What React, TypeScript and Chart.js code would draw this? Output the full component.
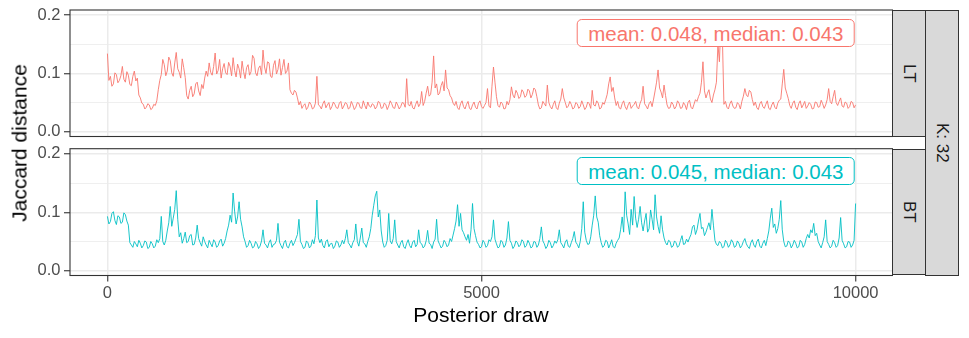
import React, { useEffect, useRef } from "react";
import { Chart, registerables } from "chart.js";

Chart.register(...registerables);

// Posterior draws 0..10000, one value every DRAW_STEP draws
const DRAW_STEP = 20;
const X_TICKS = [0, 5000, 10000];
const Y_TICKS = [0, 0.05, 0.1, 0.15, 0.2];
const PANELS = ["LT", "BT"];
const OUTER_STRIP = "K: 32";
const LABEL_LT = "mean: 0.048, median: 0.043";
const LABEL_BT = "mean: 0.045, median: 0.043";
const COLOR_LT = "#F8766D";
const COLOR_BT = "#00BFC4";

const LT_VALUES = [
  0.134, 0.088, 0.095, 0.078, 0.082, 0.101, 0.098, 0.084, 0.088, 0.096, 0.112, 0.090, 0.085, 0.103, 0.097, 0.081, 0.079, 0.095, 0.104, 0.087,
  0.092, 0.063, 0.058, 0.049, 0.047, 0.039, 0.042, 0.048, 0.046, 0.038, 0.040, 0.047, 0.045, 0.053, 0.072, 0.088, 0.098, 0.124, 0.115, 0.096,
  0.104, 0.128, 0.122, 0.101, 0.095, 0.118, 0.136, 0.108, 0.102, 0.092, 0.125, 0.110, 0.093, 0.062, 0.056, 0.071, 0.078, 0.060, 0.065, 0.082,
  0.085, 0.070, 0.062, 0.081, 0.074, 0.092, 0.104, 0.095, 0.118, 0.102, 0.097, 0.112, 0.135, 0.099, 0.105, 0.124, 0.092, 0.108, 0.117, 0.101,
  0.098, 0.119, 0.112, 0.096, 0.127, 0.105, 0.094, 0.116, 0.108, 0.092, 0.121, 0.103, 0.091, 0.110, 0.115, 0.097, 0.103, 0.131, 0.126, 0.101,
  0.096, 0.109, 0.113, 0.098, 0.140, 0.111, 0.100, 0.120, 0.118, 0.095, 0.093, 0.114, 0.122, 0.099, 0.107, 0.125, 0.097, 0.110, 0.124, 0.100,
  0.104, 0.118, 0.072, 0.066, 0.063, 0.071, 0.068, 0.058, 0.046, 0.052, 0.040, 0.045, 0.048, 0.038, 0.042, 0.051, 0.047, 0.039, 0.041, 0.049,
  0.095, 0.046, 0.044, 0.039, 0.048, 0.053, 0.041, 0.046, 0.050, 0.038, 0.043, 0.051, 0.047, 0.041, 0.040, 0.049, 0.052, 0.039, 0.044, 0.050,
  0.048, 0.039, 0.041, 0.052, 0.046, 0.038, 0.042, 0.050, 0.049, 0.041, 0.040, 0.053, 0.045, 0.039, 0.051, 0.044, 0.042, 0.048, 0.046, 0.039,
  0.043, 0.052, 0.050, 0.040, 0.041, 0.049, 0.047, 0.038, 0.044, 0.053, 0.048, 0.041, 0.040, 0.051, 0.046, 0.039, 0.043, 0.050, 0.049, 0.042,
  0.091, 0.047, 0.044, 0.052, 0.041, 0.039, 0.047, 0.053, 0.043, 0.048, 0.069, 0.045, 0.052, 0.066, 0.078, 0.061, 0.064, 0.085, 0.130, 0.075,
  0.082, 0.063, 0.066, 0.079, 0.086, 0.070, 0.106, 0.075, 0.072, 0.062, 0.058, 0.049, 0.045, 0.052, 0.041, 0.038, 0.048, 0.053, 0.043, 0.039,
  0.047, 0.052, 0.040, 0.038, 0.046, 0.051, 0.042, 0.039, 0.049, 0.053, 0.043, 0.040, 0.045, 0.050, 0.074, 0.044, 0.041, 0.078, 0.111, 0.085,
  0.060, 0.045, 0.042, 0.051, 0.048, 0.039, 0.040, 0.052, 0.046, 0.055, 0.077, 0.063, 0.058, 0.071, 0.066, 0.057, 0.060, 0.072, 0.068, 0.059,
  0.062, 0.073, 0.070, 0.058, 0.064, 0.075, 0.072, 0.060, 0.046, 0.039, 0.041, 0.052, 0.048, 0.044, 0.080, 0.050, 0.043, 0.039, 0.047, 0.053,
  0.041, 0.038, 0.049, 0.056, 0.074, 0.058, 0.050, 0.041, 0.044, 0.052, 0.047, 0.039, 0.041, 0.050, 0.048, 0.040, 0.043, 0.053, 0.046, 0.038,
  0.042, 0.051, 0.048, 0.040, 0.071, 0.046, 0.044, 0.053, 0.049, 0.039, 0.041, 0.050, 0.047, 0.055, 0.064, 0.082, 0.094, 0.069, 0.076, 0.058,
  0.045, 0.052, 0.041, 0.039, 0.048, 0.053, 0.043, 0.038, 0.046, 0.051, 0.040, 0.044, 0.047, 0.052, 0.042, 0.039, 0.049, 0.055, 0.078, 0.048,
  0.044, 0.039, 0.048, 0.052, 0.043, 0.056, 0.070, 0.085, 0.106, 0.075, 0.068, 0.058, 0.080, 0.062, 0.046, 0.040, 0.041, 0.051, 0.047, 0.039,
  0.043, 0.053, 0.049, 0.040, 0.041, 0.050, 0.046, 0.038, 0.050, 0.054, 0.042, 0.039, 0.047, 0.055, 0.052, 0.060, 0.066, 0.085, 0.120, 0.070,
  0.058, 0.066, 0.072, 0.056, 0.050, 0.063, 0.072, 0.085, 0.150, 0.120, 0.190, 0.160, 0.047, 0.052, 0.042, 0.039, 0.048, 0.053, 0.044, 0.040,
  0.041, 0.050, 0.047, 0.039, 0.052, 0.061, 0.074, 0.063, 0.060, 0.071, 0.068, 0.055, 0.045, 0.051, 0.041, 0.038, 0.048, 0.052, 0.043, 0.040,
  0.047, 0.053, 0.040, 0.038, 0.046, 0.051, 0.042, 0.039, 0.049, 0.054, 0.056, 0.082, 0.107, 0.075, 0.066, 0.057, 0.045, 0.040, 0.049, 0.053,
  0.042, 0.038, 0.048, 0.053, 0.041, 0.046, 0.052, 0.040, 0.044, 0.050, 0.047, 0.039, 0.040, 0.051, 0.050, 0.042, 0.043, 0.054, 0.048, 0.040,
  0.046, 0.055, 0.074, 0.052, 0.048, 0.060, 0.071, 0.050, 0.045, 0.052, 0.058, 0.044, 0.042, 0.051, 0.049, 0.040, 0.043, 0.052, 0.050, 0.041,
  0.046,
];

const BT_VALUES = [
  0.093, 0.080, 0.084, 0.098, 0.101, 0.086, 0.079, 0.094, 0.092, 0.081, 0.083, 0.099, 0.096, 0.085, 0.078, 0.048, 0.044, 0.040, 0.050, 0.046,
  0.041, 0.052, 0.047, 0.039, 0.043, 0.051, 0.049, 0.038, 0.040, 0.050, 0.046, 0.039, 0.042, 0.053, 0.048, 0.055, 0.093, 0.050, 0.044, 0.052,
  0.068, 0.082, 0.110, 0.076, 0.090, 0.105, 0.137, 0.088, 0.058, 0.065, 0.047, 0.055, 0.066, 0.048, 0.050, 0.060, 0.062, 0.044, 0.045, 0.056,
  0.078, 0.055, 0.048, 0.042, 0.058, 0.050, 0.044, 0.039, 0.052, 0.046, 0.041, 0.053, 0.049, 0.040, 0.043, 0.051, 0.054, 0.042, 0.047, 0.055,
  0.068, 0.078, 0.095, 0.083, 0.133, 0.102, 0.080, 0.092, 0.118, 0.088, 0.075, 0.058, 0.050, 0.040, 0.043, 0.052, 0.047, 0.039, 0.041, 0.050,
  0.046, 0.038, 0.042, 0.051, 0.070, 0.047, 0.044, 0.039, 0.048, 0.053, 0.040, 0.045, 0.046, 0.052, 0.081, 0.049, 0.043, 0.038, 0.048, 0.052,
  0.041, 0.039, 0.047, 0.052, 0.043, 0.048, 0.055, 0.062, 0.088, 0.050, 0.045, 0.038, 0.040, 0.051, 0.048, 0.039, 0.042, 0.053, 0.046, 0.060,
  0.121, 0.056, 0.048, 0.054, 0.043, 0.039, 0.050, 0.053, 0.041, 0.046, 0.047, 0.038, 0.042, 0.051, 0.049, 0.040, 0.044, 0.052, 0.046, 0.055,
  0.070, 0.048, 0.044, 0.039, 0.048, 0.053, 0.080, 0.050, 0.042, 0.056, 0.073, 0.048, 0.046, 0.040, 0.050, 0.058, 0.072, 0.095, 0.112, 0.128,
  0.136, 0.092, 0.104, 0.068, 0.049, 0.040, 0.043, 0.052, 0.098, 0.051, 0.046, 0.055, 0.087, 0.050, 0.044, 0.039, 0.048, 0.052, 0.041, 0.038,
  0.047, 0.053, 0.043, 0.039, 0.049, 0.052, 0.041, 0.045, 0.070, 0.048, 0.046, 0.039, 0.042, 0.051, 0.069, 0.047, 0.045, 0.038, 0.049, 0.054,
  0.088, 0.051, 0.045, 0.039, 0.042, 0.052, 0.048, 0.041, 0.044, 0.055, 0.050, 0.061, 0.072, 0.085, 0.113, 0.076, 0.098, 0.070, 0.065, 0.058,
  0.052, 0.062, 0.047, 0.070, 0.115, 0.072, 0.060, 0.049, 0.045, 0.039, 0.041, 0.052, 0.048, 0.040, 0.043, 0.053, 0.050, 0.058, 0.087, 0.054,
  0.046, 0.039, 0.041, 0.052, 0.049, 0.040, 0.044, 0.056, 0.084, 0.052, 0.047, 0.038, 0.042, 0.051, 0.048, 0.041, 0.044, 0.053, 0.050, 0.040,
  0.043, 0.052, 0.047, 0.039, 0.041, 0.050, 0.049, 0.040, 0.044, 0.055, 0.075, 0.051, 0.046, 0.038, 0.042, 0.052, 0.048, 0.039, 0.043, 0.051,
  0.047, 0.053, 0.070, 0.048, 0.044, 0.039, 0.049, 0.053, 0.042, 0.040, 0.048, 0.055, 0.067, 0.049, 0.045, 0.039, 0.050, 0.072, 0.118, 0.066,
  0.052, 0.045, 0.046, 0.058, 0.078, 0.095, 0.128, 0.092, 0.083, 0.060, 0.048, 0.040, 0.043, 0.052, 0.050, 0.039, 0.045, 0.053, 0.041, 0.039,
  0.047, 0.052, 0.056, 0.071, 0.092, 0.066, 0.135, 0.095, 0.080, 0.062, 0.105, 0.078, 0.127, 0.090, 0.074, 0.088, 0.110, 0.082, 0.068, 0.085,
  0.098, 0.066, 0.072, 0.104, 0.088, 0.070, 0.130, 0.092, 0.076, 0.064, 0.094, 0.070, 0.056, 0.048, 0.044, 0.052, 0.050, 0.040, 0.042, 0.051,
  0.048, 0.040, 0.043, 0.052, 0.060, 0.045, 0.046, 0.054, 0.049, 0.056, 0.062, 0.075, 0.078, 0.062, 0.070, 0.085, 0.098, 0.072, 0.074, 0.060,
  0.066, 0.074, 0.082, 0.070, 0.105, 0.078, 0.052, 0.045, 0.043, 0.050, 0.047, 0.039, 0.041, 0.052, 0.048, 0.040, 0.044, 0.053, 0.049, 0.040,
  0.042, 0.051, 0.047, 0.039, 0.043, 0.050, 0.055, 0.046, 0.041, 0.038, 0.048, 0.053, 0.044, 0.040, 0.050, 0.054, 0.042, 0.039, 0.047, 0.052,
  0.043, 0.055, 0.068, 0.090, 0.107, 0.074, 0.080, 0.064, 0.072, 0.088, 0.120, 0.070, 0.050, 0.041, 0.042, 0.051, 0.048, 0.039, 0.044, 0.052,
  0.047, 0.039, 0.041, 0.052, 0.049, 0.040, 0.045, 0.055, 0.062, 0.056, 0.070, 0.065, 0.081, 0.060, 0.064, 0.050, 0.044, 0.039, 0.048, 0.058,
  0.087, 0.050, 0.045, 0.039, 0.042, 0.052, 0.048, 0.040, 0.043, 0.056, 0.091, 0.052, 0.046, 0.039, 0.041, 0.050, 0.049, 0.040, 0.044, 0.052,
  0.115,
];

const FONT = "'Liberation Sans', Arial, Helvetica, sans-serif";
const Y_MIN = -0.0082;
const Y_MAX = 0.2088;

const isMajor = (v: number) => Math.abs(v * 10 - Math.round(v * 10)) < 1e-6;

const panelBorder = {
  id: "panelBorder",
  afterDraw(chart: any) {
    const { ctx, chartArea } = chart;
    ctx.save();
    ctx.strokeStyle = "#333333";
    ctx.lineWidth = 1.1;
    ctx.strokeRect(chartArea.left, chartArea.top, chartArea.right - chartArea.left, chartArea.bottom - chartArea.top);
    ctx.restore();
  },
};

function makeConfig(values: number[], color: string, showX: boolean, padding: any) {
  return {
    type: "line",
    data: {
      datasets: [
        {
          data: values.map((v, i) => ({ x: i * DRAW_STEP, y: v })),
          borderColor: color,
          borderWidth: 0.9,
          pointRadius: 0,
          tension: 0,
        },
      ],
    },
    options: {
      animation: false,
      responsive: false,
      maintainAspectRatio: false,
      events: [],
      layout: { padding },
      plugins: { legend: { display: false }, tooltip: { enabled: false } },
      scales: {
        x: {
          type: "linear",
          min: -500,
          max: 10500,
          afterBuildTicks: (s: any) => {
            s.ticks = X_TICKS.map((v) => ({ value: v }));
          },
          afterFit: (s: any) => {
            s.height = showX ? 24 : 0;
            s.paddingLeft = 0;
            s.paddingRight = 0;
          },
          border: { display: false },
          grid: {
            color: "#ebebeb",
            lineWidth: 1.5,
            drawTicks: showX,
            tickLength: 6,
            tickColor: "#333333",
            tickWidth: 1.1,
          },
          ticks: {
            display: showX,
            maxRotation: 0,
            autoSkip: false,
            padding: 2,
            color: "#4d4d4d",
            font: { family: FONT, size: 16.5 },
            callback: (v: any) => String(v),
          },
        },
        y: {
          type: "linear",
          min: Y_MIN,
          max: Y_MAX,
          afterBuildTicks: (s: any) => {
            s.ticks = Y_TICKS.map((v) => ({ value: v }));
          },
          afterFit: (s: any) => {
            s.width = 70;
            s.paddingTop = 0;
            s.paddingBottom = 0;
          },
          border: { display: false },
          grid: {
            color: "#ebebeb",
            lineWidth: (c: any) => (c.tick && isMajor(c.tick.value) ? 1.5 : 0.8),
            tickLength: 6,
            tickColor: (c: any) => (c.tick && isMajor(c.tick.value) ? "#333333" : "rgba(0,0,0,0)"),
            tickWidth: 1.1,
          },
          ticks: {
            autoSkip: false,
            padding: 3.5,
            color: "#4d4d4d",
            font: { family: FONT, size: 16.5 },
            callback: (v: any) => (isMajor(v) ? Number(v).toFixed(1) : ""),
          },
        },
      },
    },
    plugins: [panelBorder],
  };
}

function Panel(props: { values: number[]; color: string; showX: boolean; top: number; height: number; padding: any }) {
  const ref = useRef<HTMLCanvasElement>(null);
  useEffect(() => {
    const chart = new Chart(ref.current as any, makeConfig(props.values, props.color, props.showX, props.padding) as any);
    return () => chart.destroy();
  }, []);
  return (
    <canvas
      ref={ref}
      width={893}
      height={props.height}
      style={{ position: "absolute", left: 0, top: props.top, width: 893, height: props.height }}
    />
  );
}

function StatLabel(props: { text: string; color: string; top: number }) {
  return (
    <div
      style={{
        position: "absolute",
        left: 855,
        top: props.top,
        transform: "translateX(-100%)",
        height: 28.6,
        boxSizing: "border-box",
        border: `1px solid ${props.color}`,
        borderRadius: 5,
        background: "#ffffff",
        color: props.color,
        fontFamily: FONT,
        fontSize: 20.5,
        lineHeight: "26px",
        padding: "1.2px 10.5px 0 10.5px",
        whiteSpace: "nowrap",
      }}
    >
      {props.text}
    </div>
  );
}

function Strip(props: { text: string; left: number; top: number; width: number; height: number }) {
  return (
    <div
      style={{
        position: "absolute",
        left: props.left,
        top: props.top,
        width: props.width,
        height: props.height,
        boxSizing: "border-box",
        background: "#d9d9d9",
        border: "1.1px solid #333333",
        display: "flex",
        alignItems: "center",
        justifyContent: "center",
      }}
    >
      <span style={{ writingMode: "vertical-rl", fontFamily: FONT, fontSize: 17, color: "#1a1a1a", whiteSpace: "nowrap" }}>
        {props.text}
      </span>
    </div>
  );
}

export default function App() {
  return (
    <div style={{ position: "fixed", left: 0, top: 0, width: 969, height: 338, background: "#ffffff", overflow: "hidden" }}>
      <Panel values={LT_VALUES} color={COLOR_LT} showX={false} top={0} height={145} padding={{ top: 10, bottom: 8.5, left: 0, right: 0 }} />
      <Panel values={BT_VALUES} color={COLOR_BT} showX={true} top={140} height={198} padding={{ top: 8.7, bottom: 38.5, left: 0, right: 0 }} />
      <StatLabel text={LABEL_LT} color={COLOR_LT} top={18.7} />
      <StatLabel text={LABEL_BT} color={COLOR_BT} top={156.7} />
      <Strip text={PANELS[0]} left={892.3} top={10} width={33.4} height={126.5} />
      <Strip text={PANELS[1]} left={892.3} top={148.7} width={33.4} height={126.8} />
      <Strip text={OUTER_STRIP} left={925} top={10} width={33.5} height={265.5} />
      <div
        style={{
          position: "absolute",
          left: 19,
          top: 142.5,
          transform: "translate(-50%, -50%) rotate(-90deg)",
          fontFamily: FONT,
          fontSize: 21,
          lineHeight: 1,
          color: "#000000",
          whiteSpace: "nowrap",
        }}
      >
        Jaccard distance
      </div>
      <div
        style={{
          position: "absolute",
          left: 481,
          top: 304.2,
          transform: "translateX(-50%)",
          fontFamily: FONT,
          fontSize: 21,
          lineHeight: 1,
          color: "#000000",
          whiteSpace: "nowrap",
        }}
      >
        Posterior draw
      </div>
    </div>
  );
}
